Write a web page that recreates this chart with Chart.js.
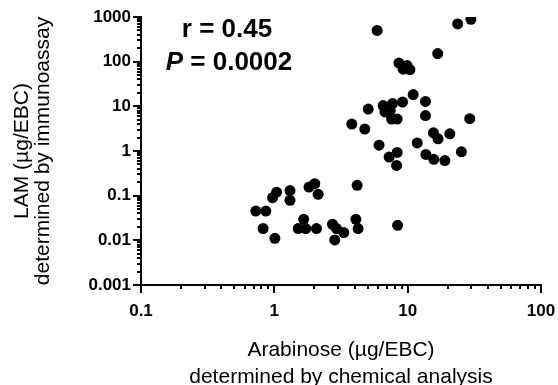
<!DOCTYPE html>
<html>
<head>
<meta charset="utf-8">
<script src="https://cdn.jsdelivr.net/npm/chart.js@4.4.1/dist/chart.umd.min.js"></script>
<style>
body{margin:0;background:#fff;}
</style>
</head>
<body>
<canvas id="chart" width="558" height="385"></canvas>
<script>

/* DATA : arabinose (x) and LAM (y), ug per EBC sample */
let arabinose = [
5.9, 23.7, 29.8, 16.8, 8.6, 9.9, 9.25, 10.4,
11, 13.6, 9.15, 7.7, 6.55, 5.06, 7.4, 6.75, 7.57, 8.34, 13.6, 29.2, 3.81, 4.77,
6.1, 11.8, 15.6, 16.9, 20.7, 7.26, 8.34, 8.26, 13.7, 15.7, 19, 25.3,
4.18, 8.4, 0.726, 0.863, 0.824, 1.01, 0.97, 1.04, 1.31, 1.31, 1.82, 2.01, 2.13,
1.66, 1.51, 1.72, 2.07, 2.73, 2.93, 3.32, 2.84, 4.09, 4.25
];
let lam = [
500, 700, 890, 152, 93, 82, 68, 66,
18.3, 12.9, 12.5, 11.5, 10.4, 8.7, 8.1, 7.5, 5.2, 5.2, 6.2, 5.3, 4.0, 3.1,
1.35, 1.52, 2.55, 1.87, 2.42, 0.73, 0.93, 0.475, 0.84, 0.65, 0.61, 0.96,
0.17, 0.0217, 0.0453, 0.0453, 0.0183, 0.0111, 0.09, 0.12, 0.13, 0.0785, 0.156, 0.185, 0.107,
0.0296, 0.0183, 0.0183, 0.0183, 0.0229, 0.0183, 0.0149, 0.0102, 0.0296, 0.0183
];

let xTicks = [0.1, 1, 10, 100];
let yTicks = [0.001, 0.01, 0.1, 1, 10, 100, 1000];

let rText = "r = 0.45";
let pText = " = 0.0002";

let fontFamily = "'Liberation Sans', Arial, Helvetica, sans-serif";

/* log axis tick marks, long at each decade and short in between */
function drawLogTicks(ctx, scale, vertical, edge){

let min = scale.min;
let max = scale.max;

for(let d = min; d < max * 1.0001; d *= 10){

for(let m = 1; m <= 9; m++){

let v = m * d;
if(v > max * 1.0001) break;

let p = Math.round(scale.getPixelForValue(v));
let len = (m === 1) ? 8 : 4;

ctx.beginPath();
if(vertical){
ctx.moveTo(edge, p);
ctx.lineTo(edge - len, p);
}else{
ctx.moveTo(p, edge);
ctx.lineTo(p, edge + len);
}
ctx.stroke();

}

}

}

let axisTicks = {
id: "axisTicks",
afterDraw(c){

let ctx = c.ctx;
let area = c.chartArea;

ctx.save();
ctx.strokeStyle = "#000";
ctx.lineWidth = 2;
drawLogTicks(ctx, c.scales.y, true, area.left);
drawLogTicks(ctx, c.scales.x, false, area.bottom);
ctx.restore();

}
};

/* correlation text in the upper left */
let statText = {
id: "statText",
afterDraw(c){

let ctx = c.ctx;
let bold = "bold 26px " + fontFamily;
let italic = "italic bold 26px " + fontFamily;

ctx.save();
ctx.fillStyle = "#000";
ctx.textBaseline = "alphabetic";

ctx.font = bold;
ctx.textAlign = "center";
ctx.fillText(rText, 227, 37);

ctx.textAlign = "left";
ctx.font = italic;
let wP = ctx.measureText("P").width;
ctx.font = bold;
let wRest = ctx.measureText(pText).width;
let x0 = 229 - (wP + wRest) / 2;

ctx.font = italic;
ctx.fillText("P", x0, 70);
ctx.font = bold;
ctx.fillText(pText, x0 + wP, 70);

ctx.restore();

}
};

let points = arabinose.map((x, i) => ({x: x, y: lam[i]}));

let tickFont = {family: fontFamily, size: 17, weight: "bold"};

let ctx = document.getElementById("chart").getContext("2d");

let chart = new Chart(ctx, {
type: "scatter",
data: {
datasets: [{
data: points,
backgroundColor: "#000",
borderWidth: 0,
pointRadius: 5.5,
pointHoverRadius: 5.5
}]
},
options: {
responsive: false,
animation: false,
layout: {
padding: {top: 17, right: 17, left: 0, bottom: 0}
},
plugins: {
legend: {display: false},
tooltip: {enabled: false}
},
scales: {
x: {
type: "logarithmic",
min: 0.1,
max: 100,
grid: {display: false, drawTicks: false},
border: {color: "#000", width: 2},
afterBuildTicks: s => { s.ticks = xTicks.map(v => ({value: v})); },
afterFit: s => {
s.height = 100;
s.paddingLeft = 0;
s.paddingRight = 0;
},
ticks: {
autoSkip: false,
maxRotation: 0,
padding: 16,
color: "#000",
font: tickFont,
callback: v => String(v)
},
title: {
display: true,
text: ["Arabinose (µg/EBC)", "determined by chemical analysis"],
color: "#000",
font: {family: fontFamily, size: 21, lineHeight: 1.25},
padding: {top: 0, bottom: -5}
}
},
y: {
type: "logarithmic",
min: 0.001,
max: 1000,
grid: {display: false, drawTicks: false},
border: {color: "#000", width: 2},
afterBuildTicks: s => { s.ticks = yTicks.map(v => ({value: v})); },
afterFit: s => {
s.width = 141;
s.paddingTop = 0;
s.paddingBottom = 0;
},
ticks: {
autoSkip: false,
padding: 10,
color: "#000",
font: tickFont,
callback: v => String(v)
},
title: {
display: true,
text: ["LAM (µg/EBC)", "determined by immunoassay"],
color: "#000",
font: {family: fontFamily, size: 21, lineHeight: 1.0},
padding: {top: 12, bottom: 0}
}
}
}
},
plugins: [axisTicks, statText]
});

</script>
</body>
</html>
